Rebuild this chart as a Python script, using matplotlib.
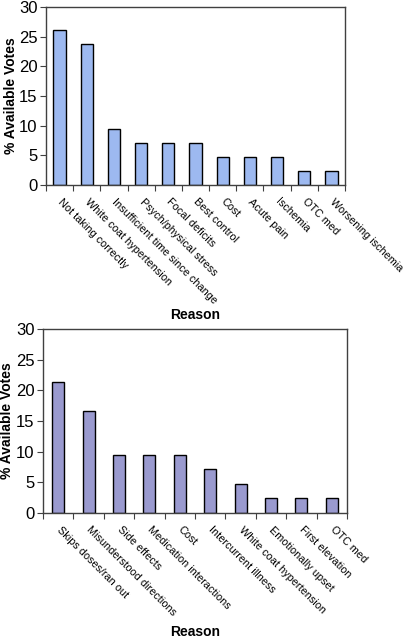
import numpy as np
import matplotlib.pyplot as plt

plt.rcParams['font.family'] = ['Liberation Sans', 'DejaVu Sans']

# top panel
reasons_top = ["Not taking correctly", "White coat hypertension",
               "Insufficient time since change", "Psych/physical stress",
               "Focal deficits", "Best control", "Cost", "Acute pain",
               "Ischemia", "OTC med", "Worsening ischemia"]
votes_top = [26.2, 23.8, 9.5, 7.1, 7.1, 7.1, 4.8, 4.8, 4.8, 2.4, 2.4]

# bottom panel
reasons_bot = ["Skips doses/ran out", "Misunderstood directions", "Side effects",
               "Medication interactions", "Cost", "Intercurrent illness",
               "White coat hypertension", "Emotionally upset", "First elevation",
               "OTC med"]
votes_bot = [21.4, 16.7, 9.5, 9.5, 9.5, 7.1, 4.8, 2.4, 2.4, 2.4]

yticks = [0, 5, 10, 15, 20, 25, 30]


def draw_panel(ax, reasons, votes, color, width, xlab_y):
    x = np.arange(len(reasons))
    ax.bar(x, votes, width=width, color=color, edgecolor='black', linewidth=1.0)
    ax.set_xlim(-0.5, len(reasons) - 0.5)
    ax.set_ylim(0, 30)
    ax.set_yticks(yticks)
    ax.tick_params(axis='y', labelsize=12, length=4, width=0.8, pad=2,
                   color='#404040')
    # tick marks between categories, labels under bars
    ax.set_xticks(x)
    ax.set_xticklabels(reasons, rotation=-45, ha='left', va='center',
                       rotation_mode='anchor', fontsize=7.8)
    ax.tick_params(axis='x', which='major', length=0, pad=11)
    ax.set_xticks(np.arange(len(reasons) + 1) - 0.5, minor=True)
    ax.tick_params(axis='x', which='minor', length=4, width=0.8, color='#404040')
    for s in ax.spines.values():
        s.set_color('#404040')
        s.set_linewidth(1.0)
    ax.set_ylabel('% Available Votes', fontsize=10, fontweight='bold')
    ax.yaxis.set_label_coords(-0.095, 0.5)
    ax.set_xlabel('Reason', fontsize=10, fontweight='bold')
    ax.xaxis.set_label_coords(0.5, xlab_y)


fig = plt.figure(figsize=(4.06, 6.41), dpi=100)
ax1 = fig.add_axes([0.1133, 0.7114, 0.7365, 0.2777])
ax2 = fig.add_axes([0.1059, 0.1997, 0.7488, 0.2870])

draw_panel(ax1, reasons_top, votes_top, '#9DB9F0', 0.45, -0.69)
draw_panel(ax2, reasons_bot, votes_bot, '#9A9ACF', 0.40, -0.61)

fig.savefig('out.png', dpi=100)
